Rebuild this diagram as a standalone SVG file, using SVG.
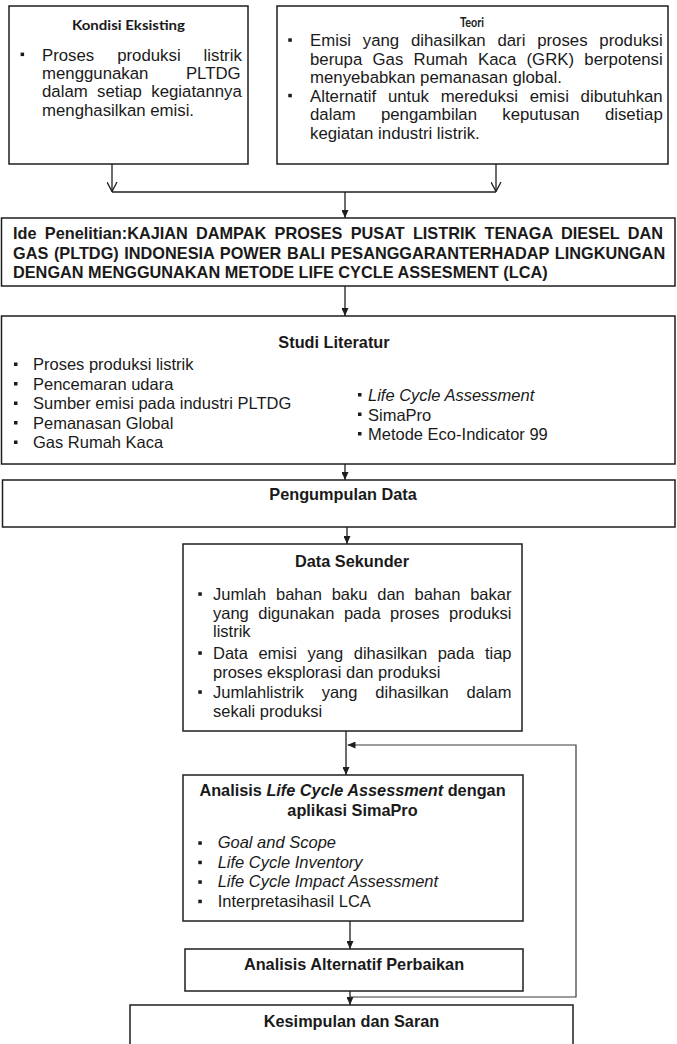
<svg xmlns="http://www.w3.org/2000/svg" width="677" height="1044" viewBox="0 0 677 1044">
  <style>
    .box { fill: #ffffff; stroke: #1e1e1e; stroke-width: 1.5; }
    .t { font-family: "Liberation Sans", Arial, sans-serif; font-size: 16.5px; fill: #1a1a1a; }
    .top { font-size: 16.8px; }
    .b { font-weight: bold; font-size: 16.3px; }
    .i { font-style: italic; }
    .m { text-anchor: middle; }
    .cal { font-family: Lato, "Liberation Sans", sans-serif; font-weight: bold; fill: #1a1a1a; }
    .bul { fill: #1a1a1a; }
    .wire { fill: none; stroke: #1e1e1e; stroke-width: 1.3; }
    .loop { fill: none; stroke: #3a3a3a; stroke-width: 1.2; }
  </style>
  <defs>
    <marker id="head" viewBox="0 0 8 7" refX="8" refY="3.5" markerWidth="8" markerHeight="7" markerUnits="userSpaceOnUse" orient="auto">
      <path d="M0,0 L8,3.5 L0,7 Z" fill="#1e1e1e"/>
    </marker>
    <marker id="vee" viewBox="0 0 10 11" refX="9.5" refY="5.5" markerWidth="10" markerHeight="11" markerUnits="userSpaceOnUse" orient="auto">
      <path d="M0,0.5 L9.5,5.5 L0,10.5" fill="none" stroke="#1e1e1e" stroke-width="1.3"/>
    </marker>
  </defs>

  <rect width="677" height="1044" fill="#ffffff"/>

  <!-- connectors -->
  <g id="connectors">
    <line class="wire" x1="112" y1="164" x2="112" y2="191.5" marker-end="url(#vee)"/>
    <line class="wire" x1="496" y1="164" x2="496" y2="191.5" marker-end="url(#vee)"/>
    <line class="wire" x1="112" y1="192" x2="496" y2="192"/>
    <line class="wire" x1="345" y1="192" x2="345" y2="218" marker-end="url(#head)"/>
    <line class="wire" x1="345" y1="286" x2="345" y2="316" marker-end="url(#head)"/>
    <line class="wire" x1="345" y1="464" x2="345" y2="480" marker-end="url(#head)"/>
    <line class="wire" x1="347" y1="527" x2="347" y2="544" marker-end="url(#head)"/>
    <line class="wire" x1="346" y1="731" x2="346" y2="775" marker-end="url(#head)"/>
    <line class="wire" x1="350" y1="921" x2="350" y2="949" marker-end="url(#head)"/>
    <line class="wire" x1="350" y1="991" x2="350" y2="1005" marker-end="url(#head)"/>
    <polyline class="loop" points="350,997 576,997 576,745 347.5,745" marker-end="url(#head)"/>
  </g>

  <!-- Kondisi Eksisting -->
  <g id="kondisi">
    <rect class="box" x="9" y="6" width="239" height="158"/>
    <text class="cal" x="128.5" y="29.5" font-size="14" text-anchor="middle" textLength="113" lengthAdjust="spacingAndGlyphs">Kondisi Eksisting</text>
    <rect class="bul" x="20.6" y="52.6" width="3.5" height="3.5"/>
    <text class="t top" x="42" y="61" style="word-spacing:18.3px">Proses produksi listrik</text>
    <text class="t top" x="42" y="79" style="word-spacing:32.9px">menggunakan PLTDG</text>
    <text class="t top" x="42" y="97.3" style="word-spacing:4.75px">dalam setiap kegiatannya</text>
    <text class="t top" x="42" y="115.5">menghasilkan emisi.</text>
  </g>

  <!-- Teori -->
  <g id="teori">
    <rect class="box" x="277" y="6" width="391" height="158"/>
    <text class="cal" x="472" y="27" font-size="13" text-anchor="middle" textLength="24" lengthAdjust="spacingAndGlyphs">Teori</text>
    <rect class="bul" x="288.3" y="38.3" width="3.5" height="3.5"/>
    <text class="t top" x="310" y="46" style="word-spacing:7.12px">Emisi yang dihasilkan dari proses produksi</text>
    <text class="t top" x="310" y="64.5" style="word-spacing:5.62px">berupa Gas Rumah Kaca (GRK) berpotensi</text>
    <text class="t top" x="310" y="83">menyebabkan pemanasan global.</text>
    <rect class="bul" x="288.3" y="93.8" width="3.5" height="3.5"/>
    <text class="t top" x="310" y="101.5" style="word-spacing:7.02px">Alternatif untuk mereduksi emisi dibutuhkan</text>
    <text class="t top" x="310" y="120" style="word-spacing:20.56px">dalam pengambilan keputusan disetiap</text>
    <text class="t top" x="310" y="138.5">kegiatan industri listrik.</text>
  </g>

  <!-- Ide Penelitian -->
  <g id="ide">
    <rect class="box" x="1.5" y="218" width="673.5" height="68"/>
    <text class="t b" x="13" y="239" style="word-spacing:3.75px">Ide Penelitian:KAJIAN DAMPAK PROSES PUSAT LISTRIK TENAGA DIESEL DAN</text>
    <text class="t b" x="13" y="259" style="word-spacing:1.1px">GAS (PLTDG) INDONESIA POWER BALI PESANGGARANTERHADAP LINGKUNGAN</text>
    <text class="t b" x="13" y="278">DENGAN MENGGUNAKAN METODE LIFE CYCLE ASSESMENT (LCA)</text>
  </g>

  <!-- Studi Literatur -->
  <g id="studi">
    <rect class="box" x="1.5" y="316" width="673.5" height="148"/>
    <text class="t b m" x="334" y="348">Studi Literatur</text>
    <g class="bul">
      <rect x="14" y="362.5" width="3.5" height="3.5"/>
      <rect x="14" y="382" width="3.5" height="3.5"/>
      <rect x="14" y="401.5" width="3.5" height="3.5"/>
      <rect x="14" y="421" width="3.5" height="3.5"/>
      <rect x="14" y="440.5" width="3.5" height="3.5"/>
      <rect x="358" y="393" width="3.5" height="3.5"/>
      <rect x="358" y="412.5" width="3.5" height="3.5"/>
      <rect x="358" y="432" width="3.5" height="3.5"/>
    </g>
    <text class="t" x="33" y="370">Proses produksi listrik</text>
    <text class="t" x="33" y="389.5">Pencemaran udara</text>
    <text class="t" x="33" y="409">Sumber emisi pada industri PLTDG</text>
    <text class="t" x="33" y="428.5">Pemanasan Global</text>
    <text class="t" x="33" y="448">Gas Rumah Kaca</text>
    <text class="t i" x="368" y="401">Life Cycle Assessment</text>
    <text class="t" x="368" y="420.5">SimaPro</text>
    <text class="t" x="368" y="440">Metode Eco-Indicator 99</text>
  </g>

  <!-- Pengumpulan Data -->
  <g id="pengumpulan">
    <rect class="box" x="2.5" y="480" width="672.5" height="47"/>
    <text class="t b m" x="343" y="500">Pengumpulan Data</text>
  </g>

  <!-- Data Sekunder -->
  <g id="sekunder">
    <rect class="box" x="183" y="544" width="339" height="187"/>
    <text class="t b m" x="352" y="566.5">Data Sekunder</text>
    <g class="bul">
      <rect x="198.3" y="592.3" width="3.5" height="3.5"/>
      <rect x="198.3" y="651.3" width="3.5" height="3.5"/>
      <rect x="198.3" y="690.3" width="3.5" height="3.5"/>
    </g>
    <text class="t" x="213" y="600" style="word-spacing:5.2px">Jumlah bahan baku dan bahan bakar</text>
    <text class="t" x="213" y="618.5" style="word-spacing:4.9px">yang digunakan pada proses produksi</text>
    <text class="t" x="213" y="637">listrik</text>
    <text class="t" x="213" y="659" style="word-spacing:5.96px">Data emisi yang dihasilkan pada tiap</text>
    <text class="t" x="213" y="677.5">proses eksplorasi dan produksi</text>
    <text class="t" x="213" y="698" style="word-spacing:13.3px">Jumlahlistrik yang dihasilkan dalam</text>
    <text class="t" x="213" y="716.5">sekali produksi</text>
  </g>

  <!-- Analisis LCA -->
  <g id="analisis">
    <rect class="box" x="183" y="775" width="340" height="146"/>
    <text class="t b m" x="352.5" y="796">Analisis <tspan class="i">Life Cycle Assessment</tspan> dengan</text>
    <text class="t b m" x="352.5" y="816">aplikasi SimaPro</text>
    <g class="bul">
      <rect x="198.3" y="841.3" width="3.5" height="3.5"/>
      <rect x="198.3" y="860.7" width="3.5" height="3.5"/>
      <rect x="198.3" y="880.3" width="3.5" height="3.5"/>
      <rect x="198.3" y="899.7" width="3.5" height="3.5"/>
    </g>
    <text class="t i" x="217.7" y="848.3">Goal and Scope</text>
    <text class="t i" x="217.7" y="867.7">Life Cycle Inventory</text>
    <text class="t i" x="217.7" y="887.3">Life Cycle Impact Assessment</text>
    <text class="t" x="217.7" y="906.7">Interpretasihasil LCA</text>
  </g>

  <!-- Analisis Alternatif Perbaikan -->
  <g id="alternatif">
    <rect class="box" x="185" y="949" width="338" height="42"/>
    <text class="t b m" x="354" y="970">Analisis Alternatif Perbaikan</text>
  </g>

  <!-- Kesimpulan dan Saran -->
  <g id="kesimpulan">
    <rect class="box" x="130" y="1005" width="443" height="60"/>
    <text class="t b m" x="351.5" y="1027">Kesimpulan dan Saran</text>
  </g>
</svg>
